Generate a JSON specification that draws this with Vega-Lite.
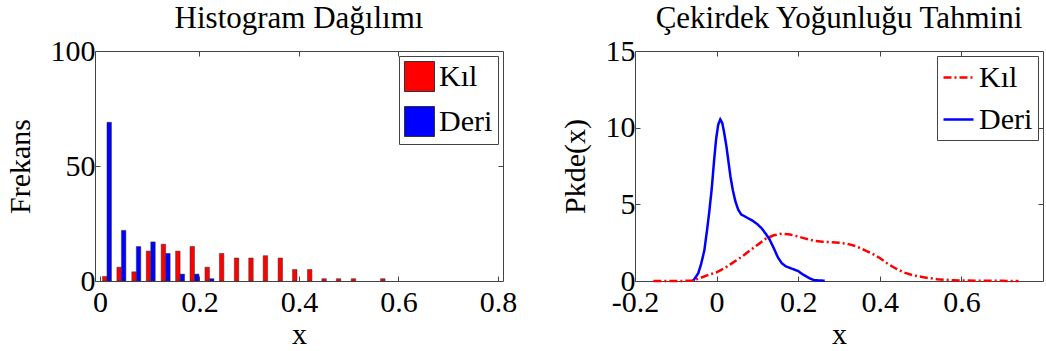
{
  "$schema": "https://vega.github.io/schema/vega-lite/v6.json",
  "autosize": {"type": "pad"},
  "padding": {"left": 4, "top": 2, "right": 0, "bottom": 0},
  "spacing": 132,
  "bounds": "flush",
  "resolve": {"scale": {"color": "independent", "strokeDash": "independent"}, "legend": {"color": "independent", "strokeDash": "independent"}},
  "datasets": {
    "hist": [
      {"x": 0.014, "s": "Kıl", "n": 2}, {"x": 0.014, "s": "Deri", "n": 69},
      {"x": 0.043, "s": "Kıl", "n": 6}, {"x": 0.043, "s": "Deri", "n": 22},
      {"x": 0.073, "s": "Kıl", "n": 4}, {"x": 0.073, "s": "Deri", "n": 15},
      {"x": 0.102, "s": "Kıl", "n": 13}, {"x": 0.102, "s": "Deri", "n": 17},
      {"x": 0.132, "s": "Kıl", "n": 16}, {"x": 0.132, "s": "Deri", "n": 12},
      {"x": 0.161, "s": "Kıl", "n": 13}, {"x": 0.161, "s": "Deri", "n": 3},
      {"x": 0.190, "s": "Kıl", "n": 15}, {"x": 0.190, "s": "Deri", "n": 3},
      {"x": 0.220, "s": "Kıl", "n": 6}, {"x": 0.220, "s": "Deri", "n": 1},
      {"x": 0.249, "s": "Kıl", "n": 12},
      {"x": 0.279, "s": "Kıl", "n": 10},
      {"x": 0.308, "s": "Kıl", "n": 10},
      {"x": 0.337, "s": "Kıl", "n": 11},
      {"x": 0.367, "s": "Kıl", "n": 10},
      {"x": 0.396, "s": "Kıl", "n": 5},
      {"x": 0.426, "s": "Kıl", "n": 5},
      {"x": 0.455, "s": "Kıl", "n": 1},
      {"x": 0.484, "s": "Kıl", "n": 1},
      {"x": 0.514, "s": "Kıl", "n": 1},
      {"x": 0.573, "s": "Kıl", "n": 1}
    ],
    "kde": [
      {"s": "Kıl", "x": -0.155, "p": 0.0},
      {"s": "Kıl", "x": -0.10, "p": 0.0},
      {"s": "Kıl", "x": -0.06, "p": 0.02},
      {"s": "Kıl", "x": -0.04, "p": 0.2},
      {"s": "Kıl", "x": -0.02, "p": 0.4},
      {"s": "Kıl", "x": 0.00, "p": 0.57},
      {"s": "Kıl", "x": 0.02, "p": 0.85},
      {"s": "Kıl", "x": 0.04, "p": 1.2},
      {"s": "Kıl", "x": 0.06, "p": 1.55},
      {"s": "Kıl", "x": 0.08, "p": 1.95},
      {"s": "Kıl", "x": 0.10, "p": 2.35},
      {"s": "Kıl", "x": 0.12, "p": 2.75},
      {"s": "Kıl", "x": 0.14, "p": 2.98},
      {"s": "Kıl", "x": 0.16, "p": 3.09},
      {"s": "Kıl", "x": 0.18, "p": 3.03},
      {"s": "Kıl", "x": 0.20, "p": 2.9},
      {"s": "Kıl", "x": 0.22, "p": 2.75},
      {"s": "Kıl", "x": 0.24, "p": 2.62},
      {"s": "Kıl", "x": 0.26, "p": 2.56},
      {"s": "Kıl", "x": 0.28, "p": 2.53},
      {"s": "Kıl", "x": 0.30, "p": 2.5},
      {"s": "Kıl", "x": 0.32, "p": 2.43},
      {"s": "Kıl", "x": 0.34, "p": 2.28},
      {"s": "Kıl", "x": 0.36, "p": 2.05},
      {"s": "Kıl", "x": 0.38, "p": 1.8},
      {"s": "Kıl", "x": 0.40, "p": 1.5},
      {"s": "Kıl", "x": 0.42, "p": 1.12},
      {"s": "Kıl", "x": 0.44, "p": 0.8},
      {"s": "Kıl", "x": 0.46, "p": 0.55},
      {"s": "Kıl", "x": 0.48, "p": 0.38},
      {"s": "Kıl", "x": 0.50, "p": 0.28},
      {"s": "Kıl", "x": 0.52, "p": 0.19},
      {"s": "Kıl", "x": 0.54, "p": 0.12},
      {"s": "Kıl", "x": 0.56, "p": 0.08},
      {"s": "Kıl", "x": 0.58, "p": 0.05},
      {"s": "Kıl", "x": 0.60, "p": 0.03},
      {"s": "Kıl", "x": 0.65, "p": 0.02},
      {"s": "Kıl", "x": 0.70, "p": 0.01},
      {"s": "Kıl", "x": 0.74, "p": 0.0},
      {"s": "Deri", "x": -0.057, "p": 0.03},
      {"s": "Deri", "x": -0.045, "p": 0.5},
      {"s": "Deri", "x": -0.038, "p": 1.1},
      {"s": "Deri", "x": -0.030, "p": 2.0},
      {"s": "Deri", "x": -0.024, "p": 3.2},
      {"s": "Deri", "x": -0.018, "p": 4.5},
      {"s": "Deri", "x": -0.012, "p": 6.0},
      {"s": "Deri", "x": -0.006, "p": 7.9},
      {"s": "Deri", "x": -0.001, "p": 9.3},
      {"s": "Deri", "x": 0.004, "p": 10.2},
      {"s": "Deri", "x": 0.009, "p": 10.54},
      {"s": "Deri", "x": 0.014, "p": 10.3},
      {"s": "Deri", "x": 0.019, "p": 9.6},
      {"s": "Deri", "x": 0.024, "p": 8.8},
      {"s": "Deri", "x": 0.029, "p": 7.8},
      {"s": "Deri", "x": 0.034, "p": 6.8},
      {"s": "Deri", "x": 0.040, "p": 5.9},
      {"s": "Deri", "x": 0.046, "p": 5.2},
      {"s": "Deri", "x": 0.053, "p": 4.65},
      {"s": "Deri", "x": 0.060, "p": 4.35},
      {"s": "Deri", "x": 0.070, "p": 4.2},
      {"s": "Deri", "x": 0.080, "p": 4.05},
      {"s": "Deri", "x": 0.090, "p": 3.9},
      {"s": "Deri", "x": 0.100, "p": 3.7},
      {"s": "Deri", "x": 0.110, "p": 3.45},
      {"s": "Deri", "x": 0.120, "p": 3.1},
      {"s": "Deri", "x": 0.130, "p": 2.7},
      {"s": "Deri", "x": 0.140, "p": 2.15},
      {"s": "Deri", "x": 0.150, "p": 1.55},
      {"s": "Deri", "x": 0.160, "p": 1.15},
      {"s": "Deri", "x": 0.170, "p": 0.95},
      {"s": "Deri", "x": 0.180, "p": 0.85},
      {"s": "Deri", "x": 0.190, "p": 0.75},
      {"s": "Deri", "x": 0.200, "p": 0.65},
      {"s": "Deri", "x": 0.210, "p": 0.45},
      {"s": "Deri", "x": 0.220, "p": 0.3},
      {"s": "Deri", "x": 0.230, "p": 0.15},
      {"s": "Deri", "x": 0.240, "p": 0.05},
      {"s": "Deri", "x": 0.265, "p": 0.02}
    ]
  },
  "hconcat": [
    {
      "width": 408,
      "height": 230,
      "title": {"text": "Histogram Dağılımı", "baseline": "alphabetic", "offset": -23},
      "layer": [
        {
          "data": {"name": "hist"},
          "transform": [{"filter": "datum.s === 'Kıl'"}],
          "mark": {"type": "bar", "size": 4.5, "xOffset": -2.25, "stroke": "#333", "strokeWidth": 0.5},
          "encoding": {
            "x": {"field": "x", "type": "quantitative", "scale": {"domain": [0, 0.8], "nice": false},
                  "axis": {"values": [0, 0.2, 0.4, 0.6, 0.8], "title": "x", "labelExpr": "replace(format(datum.value, '~g'), '−', '-')"}},
            "y": {"field": "n", "type": "quantitative", "scale": {"domain": [0, 100], "nice": false},
                  "axis": {"values": [0, 50, 100], "title": "Frekans", "titlePadding": 15}},
            "color": {"field": "s", "type": "nominal", "scale": {"domain": ["Kıl", "Deri"], "range": ["#ff0000", "#0000ff"]},
                      "legend": {"title": null, "symbolType": "square", "symbolStrokeColor": "#333", "symbolStrokeWidth": 1}}
          }
        },
        {
          "data": {"name": "hist"},
          "transform": [{"filter": "datum.s === 'Deri'"}],
          "mark": {"type": "bar", "size": 4.5, "xOffset": 2.25, "stroke": "#333", "strokeWidth": 0.5},
          "encoding": {
            "x": {"field": "x", "type": "quantitative", "axis": null},
            "y": {"field": "n", "type": "quantitative", "axis": null},
            "color": {"field": "s", "type": "nominal",
                      "legend": {"title": null, "symbolType": "square", "symbolStrokeColor": "#333", "symbolStrokeWidth": 1}}
          }
        },
        {
          "data": {"name": "hist"},
          "mark": {"type": "point", "opacity": 0},
          "encoding": {
            "x": {"field": "x", "type": "quantitative", "axis": {"orient": "top", "values": [0.2, 0.4, 0.6], "labels": false, "title": null}},
            "y": {"field": "n", "type": "quantitative", "axis": {"orient": "right", "values": [50], "labels": false, "title": null}}
          }
        }
      ],
      "resolve": {"axis": {"x": "independent", "y": "independent"}}
    },
    {
      "width": 408,
      "height": 230,
      "title": {"text": "Çekirdek Yoğunluğu Tahmini", "baseline": "alphabetic", "offset": -23},
      "layer": [
        {
          "data": {"name": "kde"},
          "mark": {"type": "line", "strokeWidth": 2.5},
          "encoding": {
            "x": {"field": "x", "type": "quantitative", "scale": {"domain": [-0.2, 0.8], "nice": false},
                  "axis": {"values": [-0.2, 0, 0.2, 0.4, 0.6], "title": "x", "labelExpr": "replace(format(datum.value, '~g'), '−', '-')"}},
            "y": {"field": "p", "type": "quantitative", "scale": {"domain": [0, 15], "nice": false},
                  "axis": {"values": [0, 5, 10, 15], "title": "Pkde(x)", "titlePadding": 15}},
            "color": {"field": "s", "type": "nominal", "scale": {"domain": ["Kıl", "Deri"], "range": ["#ff0000", "#0000ff"]},
                      "legend": {"title": null, "symbolType": "stroke", "symbolStrokeWidth": 2.5}},
            "strokeDash": {"field": "s", "type": "nominal", "scale": {"domain": ["Kıl", "Deri"], "range": [[8, 3, 2, 3], [1, 0]]},
                      "legend": {"title": null, "symbolType": "stroke", "symbolStrokeWidth": 2.5}}
          }
        },
        {
          "data": {"name": "kde"},
          "mark": {"type": "point", "opacity": 0},
          "encoding": {
            "x": {"field": "x", "type": "quantitative", "axis": {"orient": "top", "values": [0, 0.2, 0.4, 0.6], "labels": false, "title": null}},
            "y": {"field": "p", "type": "quantitative", "axis": {"orient": "right", "values": [5, 10], "labels": false, "title": null}}
          }
        }
      ],
      "resolve": {"axis": {"x": "independent", "y": "independent"}}
    }
  ],
  "config": {
    "font": "Liberation Serif",
    "view": {"stroke": "#444", "strokeWidth": 1},
    "axis": {
      "labelFont": "Liberation Serif", "labelFontSize": 30, "labelColor": "#000",
      "titleFont": "Liberation Serif", "titleFontSize": 30, "titleFontWeight": "normal", "titleColor": "#000",
      "domain": false, "tickColor": "#444", "tickSize": -5, "grid": false, "labelPadding": 5, "titlePadding": 5,
      "labelFlush": false
    },
    "axisX": {"labelPadding": 11, "titlePadding": 2},
    "legend": {
      "orient": "top-right", "offset": 5, "padding": 5, "strokeColor": "#444", "fillColor": "#fff",
      "labelFont": "Liberation Serif", "labelFontSize": 30, "labelColor": "#000", "labelOffset": 4,
      "symbolSize": 900, "rowPadding": 10
    },
    "title": {"font": "Liberation Serif", "fontSize": 31, "fontWeight": "normal", "color": "#000"}
  }
}
